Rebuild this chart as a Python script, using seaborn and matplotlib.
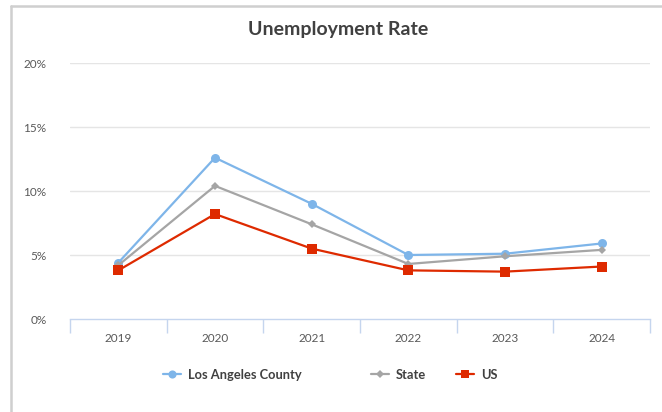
import matplotlib
matplotlib.use("Agg")
import matplotlib.pyplot as plt
from matplotlib.lines import Line2D
from matplotlib.ticker import FixedLocator
import pandas as pd
import seaborn as sns

years = ["2019", "2020", "2021", "2022", "2023", "2024"]
la_county = [4.4, 12.6, 9.0, 5.0, 5.1, 5.9]
state = [4.2, 10.4, 7.4, 4.3, 4.9, 5.4]
us = [3.8, 8.2, 5.5, 3.8, 3.7, 4.1]
series_names = ["Los Angeles County", "State", "US"]
y_ticks = [0, 5, 10, 15, 20]

df = pd.DataFrame({
    "year": years * 3,
    "pos": list(range(len(years))) * 3,
    "rate": la_county + state + us,
    "series": [s for s in series_names for _ in years],
})

sns.set_theme(style="white")
plt.rcParams["font.family"] = ["Lato", "DejaVu Sans"]

colors = {"Los Angeles County": "#7EB5E9", "State": "#A5A5A5", "US": "#DE2A00"}
markers = {"Los Angeles County": "o", "State": "D", "US": "s"}
msizes = {"Los Angeles County": 6.5, "State": 4.5, "US": 7}

W, H = 662, 412
fig = plt.figure(figsize=(W / 100, H / 100), dpi=100)
ax = fig.add_axes([70 / W, (H - 319) / H, 580 / W, 256 / H])

sns.lineplot(data=df, x="pos", y="rate", hue="series", style="series",
             palette=colors, markers=markers, dashes=False, linewidth=1.6,
             markeredgewidth=0, ax=ax, legend=False)

# marker sizes per series
for line, name in zip(ax.get_lines(), series_names):
    line.set_markersize(msizes[name])

ax.set_xlim(-0.5, len(years) - 0.5)
ax.set_ylim(0, 20)
ax.set_xlabel("")
ax.set_ylabel("")

ax.set_xticks(range(len(years)))
ax.set_xticklabels(years)
ax.xaxis.set_minor_locator(FixedLocator([i - 0.5 for i in range(len(years) + 1)]))
ax.tick_params(axis="x", which="major", length=0, pad=10, labelsize=8.5, labelcolor="#595959")
ax.tick_params(axis="x", which="minor", length=10, width=1, color="#C5D5EE", direction="out")
ax.tick_params(axis="x", which="both", bottom=True)

ax.set_yticks(y_ticks)
ax.set_yticklabels([f"{t}%" for t in y_ticks])
ax.tick_params(axis="y", length=0, pad=17, labelsize=8.5, labelcolor="#595959")

for t in y_ticks[1:]:
    ax.axhline(t, color="#E5E5E5", linewidth=1, zorder=0)

for side in ["top", "right", "left"]:
    ax.spines[side].set_visible(False)
ax.spines["bottom"].set_color("#C5D5EE")
ax.spines["bottom"].set_linewidth(1)

fig.text(338 / W, (H - 30) / H, "Unemployment Rate", ha="center", va="center",
         fontsize=14, fontweight="bold", color="#404040")

# legend entries placed individually, like the original's uneven spacing
legend_x = {"Los Angeles County": 163, "State": 371, "US": 456}
for n in series_names:
    h = Line2D([0], [0], color=colors[n], marker=markers[n], markersize=msizes[n] * 0.9,
               markeredgewidth=0, linewidth=1.6)
    fig.legend([h], [n], loc="center left", bbox_to_anchor=(legend_x[n] / W, (H - 375) / H),
               frameon=False, handlelength=1.4, handletextpad=0.55, borderpad=0,
               borderaxespad=0, prop={"weight": "bold", "size": 9.3}, labelcolor="#404040")

# outer frame (left and top edges)
fig.add_artist(Line2D([11 / W, 11 / W], [0, (H - 6) / H], transform=fig.transFigure,
                      color="#CFCFCF", linewidth=1.8))
fig.add_artist(Line2D([11 / W, 1], [(H - 6) / H, (H - 6) / H], transform=fig.transFigure,
                      color="#CFCFCF", linewidth=1.8))

fig.savefig("out.png", dpi=100)
